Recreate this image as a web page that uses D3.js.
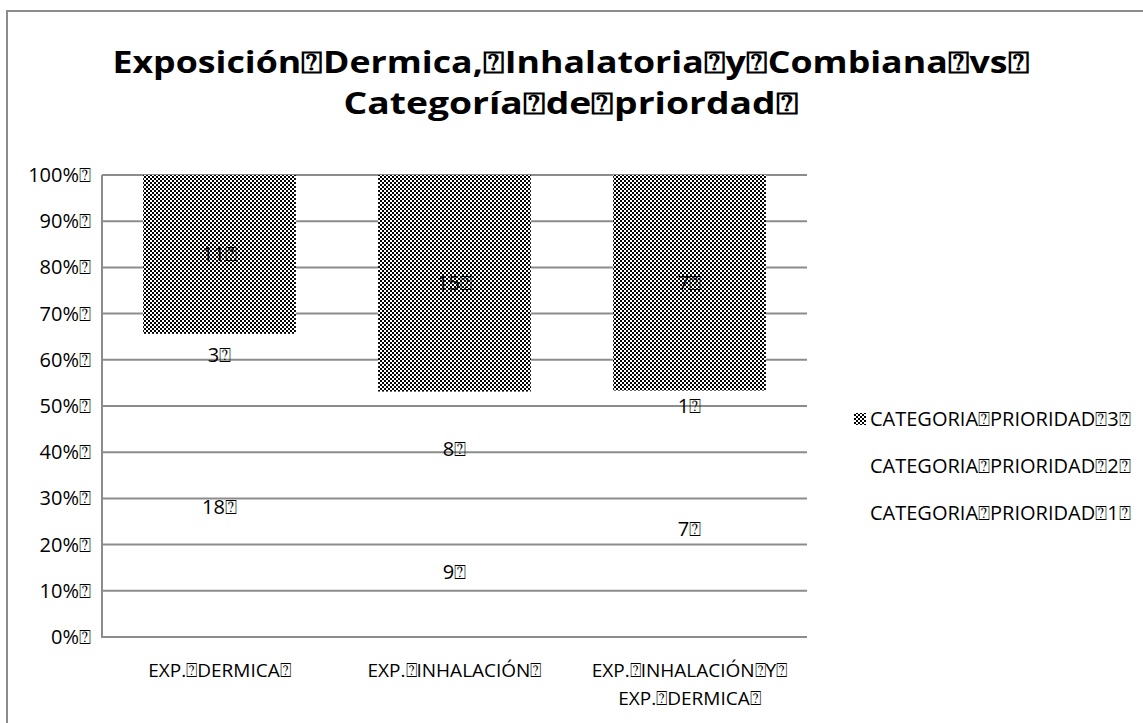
<!DOCTYPE html>
<html><head><meta charset="utf-8">
<script src="https://cdn.jsdelivr.net/npm/d3@7"></script>
<style>body{margin:0;background:#fff}svg{display:block}text{font-family:"Open Sans",Lato,sans-serif}</style>
</head><body>
<svg id="c" width="1143" height="723"></svg>
<script>
const BOX = "\u2370";
const titleLines = ["Exposición Dermica, Inhalatoria y Combiana vs ", "Categoría de priordad "];
const categories = ["EXP. DERMICA ", "EXP. INHALACIÓN ", "EXP. INHALACIÓN Y |EXP. DERMICA "];
const seriesNames = ["CATEGORIA PRIORIDAD 1 ", "CATEGORIA PRIORIDAD 2 ", "CATEGORIA PRIORIDAD 3 "];
const prioridad1 = [18, 9, 7];
const prioridad2 = [3, 8, 1];
const prioridad3 = [11, 15, 7];
const yTicks = [0, 0.1, 0.2, 0.3, 0.4, 0.5, 0.6, 0.7, 0.8, 0.9, 1];

const disp = s => s.replace(/ /g, BOX);
const svg = d3.select("#c");
const defs = svg.append("defs");
const pat = defs.append("pattern").attr("id","chk").attr("width",4).attr("height",4).attr("patternUnits","userSpaceOnUse");
pat.append("rect").attr("width",4).attr("height",4).attr("fill","#fff");
pat.append("rect").attr("width",2).attr("height",2).attr("fill","#000");
pat.append("rect").attr("x",2).attr("y",2).attr("width",2).attr("height",2).attr("fill","#000");

// outer border
svg.append("rect").attr("x",7).attr("y",11).attr("width",1150).attr("height",730)
  .attr("fill","none").attr("stroke","#8c8c8c").attr("stroke-width",2);

// title
const tw = [917, 455];
titleLines.forEach((t,i)=>{
  svg.append("text").attr("x",571).attr("y",73+i*41).attr("text-anchor","middle")
    .attr("font-weight","bold").attr("font-size",31).attr("fill","#000")
    .attr("textLength",tw[i]).attr("lengthAdjust","spacingAndGlyphs").text(disp(t));
});

const x = d3.scaleBand().domain(categories).range([102, 807]).paddingInner(0.35).paddingOuter(0.175);
const y = d3.scaleLinear().domain([0,1]).range([637, 175]);

// gridlines
svg.append("g").selectAll("line").data(yTicks.slice(1)).join("line")
  .attr("x1",102).attr("x2",807).attr("y1",d=>y(d)).attr("y2",d=>y(d))
  .attr("stroke","#8c8c8c").attr("stroke-width",2);

const series = [prioridad1, prioridad2, prioridad3];
const rows = categories.map((c,i)=>({cat:c, p1:prioridad1[i], p2:prioridad2[i], p3:prioridad3[i]}));
const stack = d3.stack().keys(["p1","p2","p3"]).offset(d3.stackOffsetExpand)(rows);
const fills = ["none","none","url(#chk)"];
stack.forEach((layer,k)=>{
  svg.append("g").selectAll("rect").data(layer).join("rect")
    .attr("x",d=>x(d.data.cat)).attr("width",x.bandwidth())
    .attr("y",d=>y(d[1])).attr("height",d=>y(d[0])-y(d[1]))
    .attr("fill",fills[k]);
});
// labels
stack.forEach((layer,k)=>{
  svg.append("g").selectAll("text").data(layer).join("text")
    .attr("x",d=>x(d.data.cat)+x.bandwidth()/2)
    .attr("y",d=>y((d[0]+d[1])/2)+7)
    .attr("text-anchor","middle").attr("font-size",20).attr("fill","#000")
    .text((d,i)=>disp(series[k][i]+" "));
});

// axes lines
svg.append("line").attr("x1",102).attr("x2",102).attr("y1",y(1)).attr("y2",y(0)).attr("stroke","#8c8c8c").attr("stroke-width",2);
svg.append("line").attr("x1",101).attr("x2",807).attr("y1",y(0)).attr("y2",y(0)).attr("stroke","#8c8c8c").attr("stroke-width",2);

// y tick labels
svg.append("g").selectAll("text").data(yTicks).join("text")
  .attr("x",91).attr("y",d=>y(d)+7).attr("text-anchor","end").attr("font-size",20).attr("fill","#000")
  .text(d=>disp(Math.round(d*100)+"% "));

// x labels
categories.forEach(c=>{
  const parts = c.split("|");
  parts.forEach((p,j)=>{
    svg.append("text").attr("x",x(c)+x.bandwidth()/2).attr("y",677+j*28)
      .attr("text-anchor","middle").attr("font-size",19).attr("fill","#000").text(disp(p));
  });
});

// legend (top = series 3)
const legOrder = [2,1,0];
legOrder.forEach((k,i)=>{
  const ly = 419 + i*47;
  svg.append("rect").attr("x",854).attr("y",ly-6).attr("width",12).attr("height",12).attr("fill",fills[k]);
  svg.append("text").attr("x",870).attr("y",ly+7).attr("font-size",20).attr("fill","#000").text(disp(seriesNames[k]));
});
</script>
</body></html>
